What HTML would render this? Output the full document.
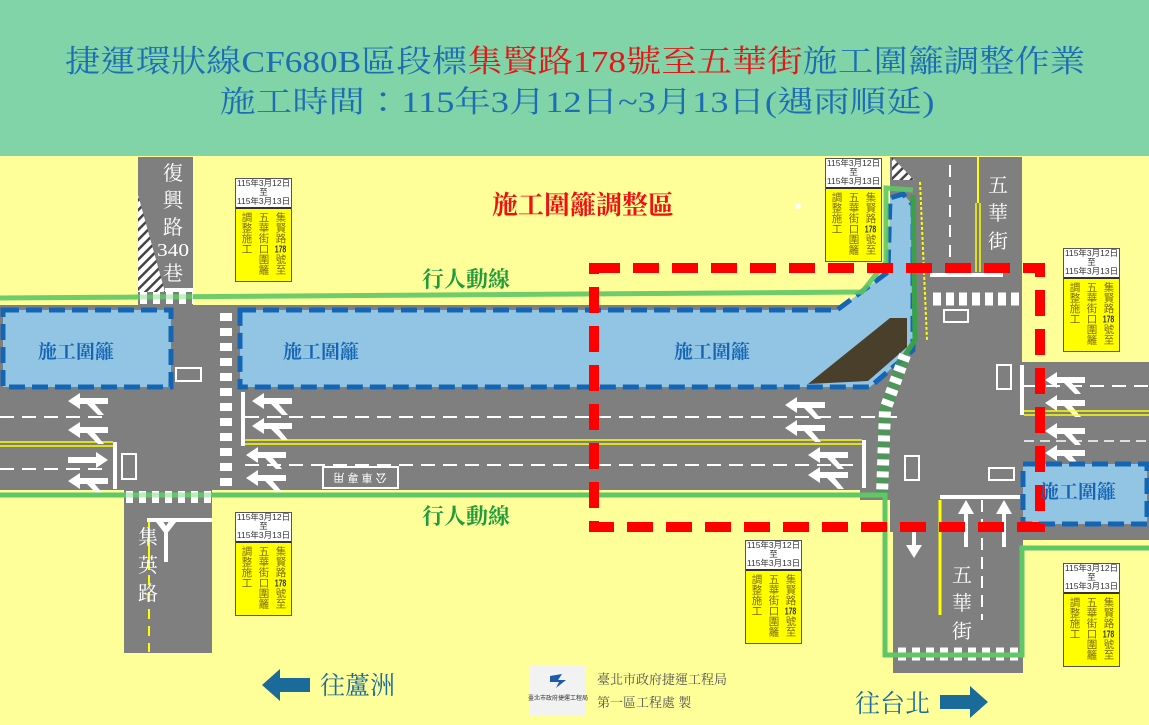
<!DOCTYPE html>
<html><head><meta charset="utf-8"><style>
html,body{margin:0;padding:0;}
body{width:1149px;height:725px;position:relative;overflow:hidden;background:#ffff99;font-family:"Liberation Serif","Noto Serif CJK SC",serif;}
svg{position:absolute;left:0;top:0;}
.sign{position:absolute;width:57px;height:104px;border:1px solid #555;background:#ffff00;box-sizing:border-box;}
.sign .top{height:28px;background:#fff;border-bottom:2px solid #333;font-family:"Liberation Sans","Noto Sans CJK TC",sans-serif;font-size:8.5px;line-height:9px;text-align:center;color:#333;}
.sign .cols{display:flex;flex-direction:row-reverse;justify-content:space-around;padding:3px 2px 0 2px;}
.sign .col{writing-mode:vertical-rl;font-family:"Liberation Sans","Noto Sans CJK TC",sans-serif;font-size:10.5px;line-height:14px;color:#7a6a10;}
.sign .col b{text-combine-upright:all;font-weight:bold;color:#333;}
</style></head><body>
<svg width="1149" height="725" viewBox="0 0 1149 725" xmlns="http://www.w3.org/2000/svg">
<defs>
<pattern id="hatch" width="7" height="7" patternUnits="userSpaceOnUse" patternTransform="rotate(45)"><rect width="7" height="7" fill="#fff"/><rect width="2.5" height="7" fill="#444"/></pattern>
<g id="la"><polygon points="0,8 12,0 12,5 40,5 40,11 12,11 12,16" fill="#fff"/><polygon points="18,10 26,10 36,22 30,22" fill="#fff"/></g>
<g id="ra"><polygon points="40,8 28,0 28,5 0,5 0,11 28,11 28,16" fill="#fff"/></g>
</defs>
<rect x="0" y="0" width="1149" height="156" fill="#80d4a8"/>
<text x="575" y="72" text-anchor="middle" font-size="31" fill="#1d6db5" textLength="1020" lengthAdjust="spacingAndGlyphs" font-family="Liberation Serif, Noto Serif CJK TC, serif">捷運環狀線CF680B區段標<tspan fill="#e01818">集賢路178號至五華街</tspan>施工圍籬調整作業</text>
<text x="577" y="112" text-anchor="middle" font-size="30" fill="#1d6db5" textLength="715" lengthAdjust="spacingAndGlyphs" font-family="Liberation Serif, Noto Serif CJK TC, serif">施工時間：115年3月12日~3月13日(遇雨順延)</text>

<rect x="0" y="305" width="895" height="185" fill="#7f7f7f"/>
<rect x="138" y="157" width="55" height="150" fill="#7f7f7f"/>
<polygon points="138,195 138,292 165,292" fill="url(#hatch)"/>
<rect x="165" y="288" width="28" height="4" fill="#fff"/>
<rect x="124" y="488" width="88" height="165" fill="#7f7f7f"/>
<rect x="890" y="157" width="132" height="375" fill="#7f7f7f"/>
<rect x="860" y="300" width="40" height="200" fill="#7f7f7f"/>
<rect x="893" y="490" width="130" height="183" fill="#7f7f7f"/>
<rect x="1020" y="362" width="129" height="178" fill="#7f7f7f"/>
<polygon points="892,157 892,180 914,180" fill="url(#hatch)"/>

<line x1="0" y1="417" x2="110" y2="417" stroke="#fff" stroke-width="2" stroke-dasharray="14,8"/>
<line x1="245" y1="417" x2="900" y2="417" stroke="#fff" stroke-width="2" stroke-dasharray="14,8"/>
<line x1="0" y1="442" x2="113" y2="442" stroke="#ffff00" stroke-width="1.5"/>
<line x1="0" y1="446" x2="113" y2="446" stroke="#ffff00" stroke-width="1.5"/>
<line x1="245" y1="440" x2="862" y2="440" stroke="#ffff00" stroke-width="1.5"/>
<line x1="245" y1="444" x2="862" y2="444" stroke="#ffff00" stroke-width="1.5"/>
<line x1="0" y1="469" x2="110" y2="469" stroke="#fff" stroke-width="2" stroke-dasharray="14,8"/>
<line x1="245" y1="465" x2="860" y2="465" stroke="#fff" stroke-width="2" stroke-dasharray="14,8"/>
<rect x="113" y="442" width="4" height="47" fill="#fff"/>
<rect x="241" y="392" width="4" height="54" fill="#fff"/>
<rect x="862" y="440" width="4" height="48" fill="#fff"/>
<line x1="226" y1="313" x2="226" y2="487" stroke="#fff" stroke-width="12" stroke-dasharray="8,7"/>
<rect x="176" y="368" width="25" height="13" fill="none" stroke="#fff" stroke-width="2"/>
<rect x="122" y="454" width="14" height="25" fill="none" stroke="#fff" stroke-width="2"/>
<rect x="944" y="310" width="24" height="12" fill="none" stroke="#fff" stroke-width="2"/>
<rect x="997" y="365" width="14" height="24" fill="none" stroke="#fff" stroke-width="2"/>
<rect x="905" y="456" width="14" height="24" fill="none" stroke="#fff" stroke-width="2"/>
<rect x="989" y="468" width="25" height="12" fill="none" stroke="#fff" stroke-width="2"/>
<rect x="323" y="467" width="75" height="21" fill="none" stroke="#fff" stroke-width="2"/>
<text x="360" y="482" text-anchor="middle" font-size="11" fill="#fff" transform="rotate(180 360 478)" font-family="Liberation Sans, Noto Sans CJK TC, sans-serif">公 車 專 用</text>

<use href="#la" x="68" y="393"/><use href="#la" x="68" y="422"/>
<use href="#ra" x="68" y="452"/><use href="#la" x="68" y="473"/>
<use href="#la" x="252" y="393"/><use href="#la" x="252" y="418"/>
<use href="#la" x="246" y="447"/><use href="#la" x="246" y="470"/>
<use href="#la" x="785" y="397"/><use href="#la" x="785" y="420"/>
<use href="#la" x="808" y="447"/><use href="#la" x="808" y="467"/>
<use href="#la" x="1045" y="372"/><use href="#la" x="1045" y="395"/>
<use href="#la" x="1045" y="423"/><use href="#la" x="1045" y="445"/>

<line x1="140" y1="298" x2="193" y2="298" stroke="#fff" stroke-width="12" stroke-dasharray="7,6"/>
<line x1="126" y1="497" x2="212" y2="497" stroke="#fff" stroke-width="12" stroke-dasharray="7,6"/>
<rect x="147" y="518" width="65" height="4" fill="#fff"/>
<line x1="149" y1="522" x2="149" y2="570" stroke="#ffff00" stroke-width="2"/>
<line x1="149" y1="575" x2="149" y2="652" stroke="#ffff00" stroke-width="2" stroke-dasharray="10,7"/>
<rect x="164" y="530" width="4" height="32" fill="#fff"/>
<polygon points="166,535 156,522 162,520 166,526 170,520 176,522" fill="#fff"/>

<line x1="950" y1="165" x2="950" y2="268" stroke="#fff" stroke-width="2" stroke-dasharray="12,8"/>
<line x1="978" y1="157" x2="978" y2="203" stroke="#ffff00" stroke-width="2"/>
<line x1="976" y1="203" x2="976" y2="272" stroke="#ffff00" stroke-width="1.5"/>
<line x1="980" y1="203" x2="980" y2="272" stroke="#ffff00" stroke-width="1.5"/>
<rect x="930" y="273" width="73" height="4" fill="#fff"/>
<line x1="933" y1="299" x2="1020" y2="299" stroke="#fff" stroke-width="13" stroke-dasharray="8,5"/>
<line x1="920" y1="182" x2="927" y2="340" stroke="#ffff00" stroke-width="2" stroke-dasharray="3,2"/>
<rect x="1020" y="365" width="4" height="50" fill="#fff"/>
<line x1="1024" y1="386" x2="1149" y2="386" stroke="#fff" stroke-width="2" stroke-dasharray="14,8"/>
<line x1="1024" y1="411" x2="1149" y2="411" stroke="#ffff00" stroke-width="1.5"/>
<line x1="1024" y1="415" x2="1149" y2="415" stroke="#ffff00" stroke-width="1.5"/>
<line x1="1024" y1="441" x2="1149" y2="441" stroke="#fff" stroke-width="1.5" stroke-dasharray="10,6"/>
<rect x="940" y="495" width="80" height="4" fill="#fff"/>
<line x1="940" y1="500" x2="940" y2="615" stroke="#ffff00" stroke-width="3"/>
<line x1="982" y1="500" x2="982" y2="620" stroke="#fff" stroke-width="2" stroke-dasharray="12,7"/>
<rect x="912" y="528" width="4" height="20" fill="#fff"/><polygon points="906,545 922,545 914,558" fill="#fff"/>
<rect x="964" y="512" width="4" height="35" fill="#fff"/><polygon points="958,514 974,514 966,500" fill="#fff"/>
<rect x="1002" y="512" width="4" height="35" fill="#fff"/><polygon points="996,514 1012,514 1004,500" fill="#fff"/>
<line x1="898" y1="654" x2="1020" y2="654" stroke="#fff" stroke-width="13" stroke-dasharray="8,6"/>

<rect x="3" y="310" width="168" height="77" fill="#92c5e3" stroke="#1565b5" stroke-width="5" stroke-dasharray="16,7"/>
<polygon points="240,310 837,310 888,272 890,198 903,194 913,205 913,350 870,387 240,387" fill="#92c5e3" stroke="#1565b5" stroke-width="5" stroke-dasharray="16,7"/>
<polygon points="808,384 890,318 907,318 907,347 868,381" fill="#4a3f2a"/>
<rect x="1023" y="464" width="124" height="60" fill="#92c5e3" stroke="#1565b5" stroke-width="5" stroke-dasharray="16,7"/>

<polyline points="0,298 862,292 886,262 886,188 913,190" fill="none" stroke="#5fc765" stroke-width="5" stroke-opacity="0.9"/>
<polyline points="913,195 915,340 905,355" fill="none" stroke="#3aa04a" stroke-width="5"/>
<polyline points="905,355 885,410 882,495" fill="none" stroke="#3aa04a" stroke-width="12" stroke-opacity="0.7"/>
<polyline points="905,355 885,410 882,495" fill="none" stroke="#fff" stroke-width="12" stroke-dasharray="6,6"/>
<polyline points="0,495 885,495 885,655 1022,655 1022,548 1149,548" fill="none" stroke="#5fc765" stroke-width="5"/>
<line x1="126" y1="497" x2="212" y2="497" stroke="#fff" stroke-width="12" stroke-dasharray="7,6" stroke-opacity="0.6"/>
<line x1="140" y1="298" x2="193" y2="298" stroke="#fff" stroke-width="12" stroke-dasharray="7,6" stroke-opacity="0.6"/>

<rect x="594" y="268" width="446" height="259" fill="none" stroke="#ff0000" stroke-width="10" stroke-dasharray="26,13"/>

<g font-family="Liberation Serif, Noto Serif CJK TC, serif" font-weight="bold">
<text x="38" y="358" font-size="19" fill="#1565b5">施工圍籬</text>
<text x="283" y="358" font-size="19" fill="#1565b5">施工圍籬</text>
<text x="674" y="358" font-size="19" fill="#1565b5">施工圍籬</text>
<text x="1040" y="498" font-size="19" fill="#1565b5">施工圍籬</text>
<text x="422" y="287" font-size="22" fill="#1f9a3c">行人動線</text>
<text x="422" y="524" font-size="22" fill="#1f9a3c">行人動線</text>
<text x="492" y="214" font-size="26" fill="#ee1111">施工圍籬調整區</text>
</g>
<g font-family="Liberation Serif, Noto Serif CJK TC, serif" fill="#fff" font-size="20" text-anchor="middle">
<text x="173" y="180">復</text><text x="173" y="207">興</text><text x="173" y="234">路</text>
<text x="173" y="256" font-size="18" textLength="32" lengthAdjust="spacingAndGlyphs">340</text><text x="173" y="280">巷</text>
<text x="148" y="544">集</text><text x="148" y="572">英</text><text x="148" y="600">路</text>
<text x="998" y="192">五</text><text x="998" y="220">華</text><text x="998" y="248">街</text>
<text x="962" y="582">五</text><text x="962" y="610">華</text><text x="962" y="638">街</text>
</g>
<circle cx="798" cy="206" r="3" fill="#fff"/>

<polygon points="262,685 280,669 280,678 310,678 310,692 280,692 280,701" fill="#1a6a9a"/>
<text x="320" y="694" font-size="25" fill="#1a6a9a" font-family="Liberation Serif, Noto Serif CJK TC, serif">往蘆洲</text>
<text x="855" y="712" font-size="25" fill="#1a6a9a" font-family="Liberation Serif, Noto Serif CJK TC, serif">往台北</text>
<polygon points="940,695 970,695 970,686 988,702 970,718 970,709 940,709" fill="#1a6a9a"/>
<rect x="530" y="666" width="56" height="50" fill="#f2f2f2"/>
<path d="M550,676 l12,-2 l-4,6 l8,0 l-10,8 l3,-6 l-9,0z" fill="#1a5aa8"/>
<text x="558" y="700" font-size="6" text-anchor="middle" fill="#333" font-family="Liberation Sans, Noto Sans CJK TC, sans-serif">臺北市政府捷運工程局</text>
<text x="597" y="684" font-size="13" fill="#555" font-family="Liberation Serif, Noto Serif CJK TC, serif">臺北市政府捷運工程局</text>
<text x="597" y="707" font-size="13" fill="#555" font-family="Liberation Serif, Noto Serif CJK TC, serif">第一區工程處 製</text>
</svg>

<div class="sign" style="left:235px;top:178px"><div class="top">115年3月12日<br>至<br>115年3月13日</div><div class="cols"><div class="col">集賢路<b>178</b>號至</div><div class="col">五華街口圍籬</div><div class="col">調整施工</div></div></div>
<div class="sign" style="left:825px;top:158px"><div class="top">115年3月12日<br>至<br>115年3月13日</div><div class="cols"><div class="col">集賢路<b>178</b>號至</div><div class="col">五華街口圍籬</div><div class="col">調整施工</div></div></div>
<div class="sign" style="left:1063px;top:248px"><div class="top">115年3月12日<br>至<br>115年3月13日</div><div class="cols"><div class="col">集賢路<b>178</b>號至</div><div class="col">五華街口圍籬</div><div class="col">調整施工</div></div></div>
<div class="sign" style="left:235px;top:512px"><div class="top">115年3月12日<br>至<br>115年3月13日</div><div class="cols"><div class="col">集賢路<b>178</b>號至</div><div class="col">五華街口圍籬</div><div class="col">調整施工</div></div></div>
<div class="sign" style="left:745px;top:540px"><div class="top">115年3月12日<br>至<br>115年3月13日</div><div class="cols"><div class="col">集賢路<b>178</b>號至</div><div class="col">五華街口圍籬</div><div class="col">調整施工</div></div></div>
<div class="sign" style="left:1063px;top:563px"><div class="top">115年3月12日<br>至<br>115年3月13日</div><div class="cols"><div class="col">集賢路<b>178</b>號至</div><div class="col">五華街口圍籬</div><div class="col">調整施工</div></div></div>
</body></html>
